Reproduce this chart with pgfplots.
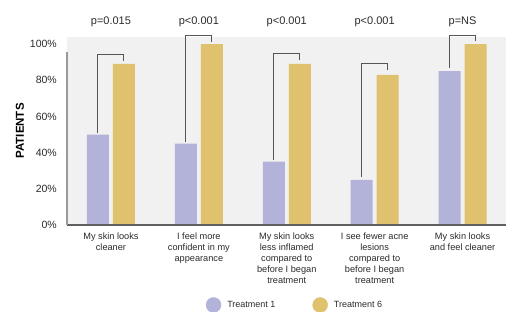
\documentclass[border=0pt]{standalone}
\usepackage{pgfplots}
\pgfplotsset{compat=1.18}
\usepackage{fontspec}
\setmainfont{Liberation Sans}
\definecolor{lav}{HTML}{B3B3DA}
\definecolor{gold}{HTML}{DFC16E}
\definecolor{bg}{HTML}{F1F1F1}
\definecolor{brk}{HTML}{555555}
\definecolor{txt}{HTML}{2A2A2A}
\begin{document}
\begin{tikzpicture}
\begin{axis}[
  at={(67pt,87pt)}, anchor=south west,
  scale only axis, width=439.5pt, height=188.2pt,
  xmin=-0.5, xmax=4.5, ymin=0, ymax=104,
  axis background/.style={fill=bg},
  axis line style={draw=none},
  clip=false,
  xtick={0,1,2,3,4},
  xticklabels={{My skin looks\\cleaner},{I feel more\\confident in my\\appearance},{My skin looks\\less inflamed\\compared to\\before I began\\treatment},{I see fewer acne\\lesions\\compared to\\before I began\\treatment},{My skin looks\\and feel cleaner}},
  xticklabel style={align=center, font=\fontsize{9.2}{10.8}\selectfont, text=txt, inner sep=0pt, yshift=-8pt},
  ytick={0,20,40,60,80,100},
  yticklabel={\pgfmathprintnumber{\tick}\%},
  /pgf/number format/assume math mode=true,
  yticklabel style={font=\fontsize{10.5}{12}\selectfont, text=txt, inner sep=0pt, xshift=-10pt},
  major tick length=0pt,
  ylabel={\textbf{PATIENTS}},
  every axis y label/.style={at={(axis description cs:0,0.5)}, xshift=-47pt, rotate=90, anchor=center, font=\fontsize{11.5}{13}\selectfont, text=black},
  legend style={at={(axis description cs:0.3155,-0.425)}, anchor=west, draw=none, fill=none, font=\fontsize{9}{11}\selectfont, text=txt, inner sep=0pt, legend cell align=left, /tikz/every even column/.append style={column sep=35pt}},
  legend columns=2,
]
\addplot[ybar, bar width=22pt, bar shift=-13pt, fill=lav, draw=none, forget plot] coordinates {(0,50) (1,45) (2,35) (3,25) (4,85)};
\addplot[ybar, bar width=22pt, bar shift=13pt, fill=gold, draw=none, forget plot] coordinates {(0,89) (1,100) (2,89) (3,83) (4,100)};
% brackets
\addplot[brk, line width=1pt, forget plot] coordinates {(-0.148,51) (-0.148,94) (0.148,94) (0.148,90.5)};
\addplot[brk, line width=1pt, forget plot] coordinates {(0.852,46) (0.852,104.5) (1.148,104.5) (1.148,101)};
\addplot[brk, line width=1pt, forget plot] coordinates {(1.852,36) (1.852,95) (2.148,95) (2.148,91)};
\addplot[brk, line width=1pt, forget plot] coordinates {(2.852,26.5) (2.852,89) (3.148,89) (3.148,85.5)};
\addplot[brk, line width=1pt, forget plot] coordinates {(3.852,87) (3.852,104.5) (4.148,104.5) (4.148,101.5)};
% axis lines
\draw[gray!75!black, line width=1.3pt] (axis cs:-0.5,0) -- (axis cs:4.5,0);
\draw[gray!80, line width=1.2pt] (axis cs:-0.5,0) -- (axis cs:-0.5,95.5);
% p-values
\node[font=\fontsize{11}{13}\selectfont, text=txt] at (axis cs:0,112.2) {p=0.015};
\node[font=\fontsize{11}{13}\selectfont, text=txt] at (axis cs:1,112.2) {p<0.001};
\node[font=\fontsize{11}{13}\selectfont, text=txt] at (axis cs:2,112.2) {p<0.001};
\node[font=\fontsize{11}{13}\selectfont, text=txt] at (axis cs:3,112.2) {p<0.001};
\node[font=\fontsize{11}{13}\selectfont, text=txt] at (axis cs:4,112.2) {p=NS};
\addlegendimage{legend image code/.code={\fill[lav] (7.5pt,0pt) circle (7.5pt);}}
\addlegendentry{\hspace{4pt}Treatment 1}
\addlegendimage{legend image code/.code={\fill[gold] (7.5pt,0pt) circle (7.5pt);}}
\addlegendentry{\hspace{4pt}Treatment 6}
\end{axis}
\pgfresetboundingbox
\useasboundingbox (0,0) rectangle (506pt,312pt);
\end{tikzpicture}
\end{document}
